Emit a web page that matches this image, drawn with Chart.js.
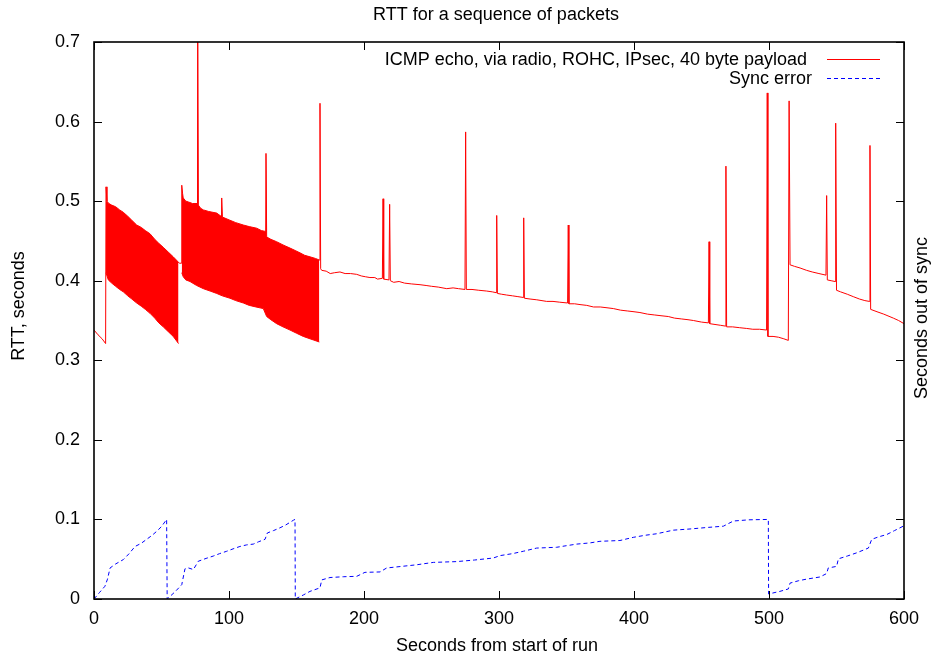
<!DOCTYPE html>
<html>
<head>
    <meta charset="UTF-8">
    <title>RTT for a sequence of packets</title>
    <script src="https://cdn.jsdelivr.net/npm/chart.js"></script>
    <style>
        body { margin: 0; background: #fff; }
    </style>
</head>
<body>
    <canvas id="myChart" width="932" height="660"></canvas>

    <script>
        // x = seconds from start of run, y = seconds
        const rttSeries = [
            [0, 0.338], [3, 0.332], [6, 0.327], [8.6, 0.321], [8.9, 0.518], [9.6, 0.500],
            [11, 0.497], [13.1, 0.495], [16, 0.493], [19, 0.489], [21.7, 0.486], [25, 0.481],
            [28, 0.476], [31.6, 0.470], [35, 0.467], [38, 0.463], [41.5, 0.459], [45, 0.452],
            [48, 0.447], [51.3, 0.442], [55, 0.436], [58.7, 0.430], [61, 0.426], [63.2, 0.422],
            [64.8, 0.422], [65.0, 0.520], [65.6, 0.510], [66.1, 0.504], [68, 0.500], [69.9, 0.499],
            [73, 0.497], [76.3, 0.497], [76.8, 0.750], [77.3, 0.495], [79, 0.491], [81, 0.489],
            [85, 0.487], [90.9, 0.485], [94.1, 0.481], [94.6, 0.504], [95.1, 0.480], [100.7, 0.476],
            [105, 0.473], [110.6, 0.470], [115, 0.468], [120.5, 0.466], [124, 0.463], [126.9, 0.462],
            [127.4, 0.560], [127.9, 0.455], [131, 0.452], [135.3, 0.449], [140, 0.445], [145.2, 0.441],
            [149, 0.438], [152.6, 0.435], [156, 0.432], [160, 0.430], [164, 0.428], [166.9, 0.426],
            [167.4, 0.623], [167.9, 0.415], [168.7, 0.413], [172, 0.412], [175, 0.409], [178, 0.410],
            [182.2, 0.411], [186, 0.409], [190, 0.409], [194.6, 0.408], [198, 0.406], [201, 0.405],
            [204.4, 0.404], [208, 0.404], [210, 0.402], [213.6, 0.403], [214.1, 0.503], [214.6, 0.402],
            [218.5, 0.401], [219, 0.496], [219.5, 0.400], [222, 0.398], [226, 0.399], [230, 0.397],
            [235, 0.396], [241.5, 0.395], [246, 0.394], [250, 0.393], [255, 0.392], [261.3, 0.390],
            [266, 0.391], [270, 0.390], [274.8, 0.389], [275.3, 0.587], [275.8, 0.389], [280, 0.389],
            [285, 0.388], [290.9, 0.387], [295, 0.386], [297.8, 0.385], [298.3, 0.482], [298.8, 0.384],
            [302, 0.383], [305.7, 0.382], [310, 0.381], [314, 0.380], [317.8, 0.379], [318.3, 0.479],
            [318.8, 0.378], [323, 0.377], [328, 0.376], [335.3, 0.374], [340, 0.374], [345, 0.373],
            [350.8, 0.372], [351.3, 0.470], [351.8, 0.371], [356, 0.371], [360, 0.370], [365, 0.369],
            [370, 0.367], [375, 0.367], [380, 0.366], [384.7, 0.365], [390, 0.363], [395, 0.362],
            [400, 0.361], [404.4, 0.360], [410, 0.358], [415, 0.357], [420, 0.356], [425.4, 0.355],
            [430, 0.353], [435, 0.352], [440, 0.351], [444, 0.350], [450, 0.348], [455.1, 0.347],
            [455.6, 0.449], [456.1, 0.346], [460, 0.345], [464, 0.344], [467.6, 0.343], [468.1, 0.544],
            [468.6, 0.342], [473, 0.342], [478, 0.341], [483.5, 0.340], [488, 0.339], [493, 0.339],
            [498.2, 0.338], [498.7, 0.636], [499.2, 0.330], [503, 0.330], [507, 0.329], [511, 0.327],
            [514.3, 0.325], [514.9, 0.626], [515.6, 0.420], [519, 0.418], [523, 0.416], [527.9, 0.413],
            [532, 0.411], [537, 0.409], [542.2, 0.407], [542.7, 0.507], [543.2, 0.401], [546, 0.400],
            [548.9, 0.399], [549.4, 0.598], [550.0, 0.388], [553, 0.386], [558, 0.383], [562.4, 0.380],
            [567, 0.377], [571, 0.375], [574.3, 0.374], [574.8, 0.570], [575.3, 0.364], [580, 0.361],
            [585, 0.358], [592.1, 0.353], [596, 0.350], [600, 0.346]
        ];

        // lower edge of the two dense oscillating stretches
        const burst1Low = [
            [8.9, 0.410], [10.6, 0.401], [13.1, 0.397], [16, 0.393], [19, 0.389], [21.7, 0.386],
            [25, 0.381], [28, 0.377], [31.6, 0.372], [35, 0.368], [38, 0.364], [41.5, 0.359],
            [45, 0.353], [48, 0.347], [51.3, 0.342], [55, 0.336], [58.7, 0.330], [62.6, 0.321]
        ];
        const burst2Low = [
            [65.0, 0.410], [66.1, 0.405], [68, 0.401], [71.1, 0.399], [76, 0.394], [81, 0.390],
            [86, 0.387], [90.9, 0.384], [95, 0.381], [100.7, 0.378], [105, 0.375], [110.6, 0.372],
            [115, 0.369], [120, 0.367], [125.4, 0.365], [127.9, 0.355], [131, 0.351], [135.3, 0.346],
            [140, 0.342], [145.2, 0.338], [150, 0.334], [155, 0.330], [160, 0.327], [166.9, 0.323]
        ];

        const syncSeries = [
            [0, 0], [4, 0.008], [8.1, 0.016], [10, 0.025], [11.9, 0.039], [16, 0.044], [21.7, 0.0495],
            [26, 0.057], [30.4, 0.066], [35, 0.070], [39, 0.075], [43, 0.080], [46.4, 0.085],
            [50, 0.091], [53.8, 0.100], [54.2, 0], [60, 0.009], [65, 0.018], [67.4, 0.038], [70, 0.039],
            [73.6, 0.037], [77.3, 0.0475], [83, 0.051], [88.4, 0.054], [93, 0.057], [98.3, 0.060],
            [103, 0.063], [108.1, 0.066], [113, 0.068], [118, 0.069], [122, 0.072], [126.7, 0.075],
            [128.4, 0.083], [133, 0.086], [137.8, 0.0895], [142, 0.093], [147.7, 0.099], [148.9, 0.100],
            [149.1, 0], [155, 0.005], [160, 0.0096], [167.4, 0.014], [168.7, 0.024], [174.8, 0.027],
            [185, 0.028], [194.6, 0.0285], [200.7, 0.0335], [211.9, 0.034], [216.8, 0.039], [228, 0.041],
            [239, 0.043], [251.4, 0.046], [268.6, 0.047], [282, 0.049], [295.8, 0.0515], [300.7, 0.0545],
            [310, 0.057], [318, 0.060], [327.9, 0.064], [342.7, 0.065], [350, 0.067], [357.6, 0.069],
            [367.4, 0.0705], [374.8, 0.0725], [389.6, 0.0735], [399.5, 0.0775], [408, 0.080],
            [416.8, 0.082], [429.1, 0.0865], [441.5, 0.088], [455, 0.090], [466.2, 0.0915],
            [473.6, 0.098], [485, 0.0995], [499.5, 0.100], [499.7, 0.0063], [508.1, 0.0096],
            [514.3, 0.0126], [515.6, 0.020], [522, 0.023], [527.9, 0.025], [537.8, 0.0277],
            [542.7, 0.032], [543.9, 0.039], [550.1, 0.041], [551.4, 0.0505], [558, 0.054],
            [564.9, 0.058], [573.6, 0.064], [576.1, 0.075], [581, 0.078], [587.2, 0.081],
            [593, 0.086], [600, 0.092]
        ];

        const xTicks = [0, 100, 200, 300, 400, 500, 600];
        const yTicks = [0, 0.1, 0.2, 0.3, 0.4, 0.5, 0.6, 0.7];
        const rttLabel = 'ICMP echo, via radio, ROHC, IPsec, 40 byte payload';
        const syncLabel = 'Sync error';

        const FONT = '"Liberation Sans", Arial, Helvetica, sans-serif';
        const toXY = arr => arr.map(p => ({ x: p[0], y: p[1] }));

        // gnuplot-like frame, inward ticks, titles and legend
        const decorations = {
            id: 'decorations',
            afterDraw(chart) {
                const c = chart.ctx;
                const a = chart.chartArea;
                const xs = chart.scales.x, ys = chart.scales.y;
                c.save();
                c.strokeStyle = '#000';
                c.lineWidth = 1;
                xTicks.forEach(v => {
                    const px = Math.round(xs.getPixelForValue(v)) + 0.5;
                    c.beginPath();
                    c.moveTo(px, a.bottom); c.lineTo(px, a.bottom - 8);
                    c.moveTo(px, a.top); c.lineTo(px, a.top + 8);
                    c.stroke();
                });
                yTicks.forEach(v => {
                    const py = Math.round(ys.getPixelForValue(v)) + 0.5;
                    c.beginPath();
                    c.moveTo(a.left, py); c.lineTo(a.left + 8, py);
                    c.moveTo(a.right, py); c.lineTo(a.right - 8, py);
                    c.stroke();
                });
                c.lineWidth = 1.6;
                c.strokeRect(a.left, a.top, a.right - a.left, a.bottom - a.top);

                c.fillStyle = '#000';
                c.font = '18px ' + FONT;
                c.textBaseline = 'middle';
                c.textAlign = 'center';
                c.fillText('RTT for a sequence of packets', 496, 15);
                c.fillText('Seconds from start of run', 497, 646);

                c.save();
                c.translate(19, 306);
                c.rotate(-Math.PI / 2);
                c.fillText('RTT, seconds', 0, 0);
                c.restore();
                c.save();
                c.translate(922, 318);
                c.rotate(-Math.PI / 2);
                c.fillText('Seconds out of sync', 0, 0);
                c.restore();

                // legend
                c.textAlign = 'right';
                c.fillText(rttLabel, 807, 60);
                c.fillText(syncLabel, 812, 79);
                c.lineWidth = 1;
                c.strokeStyle = '#ff0000';
                c.beginPath(); c.moveTo(827, 59.5); c.lineTo(880, 59.5); c.stroke();
                c.strokeStyle = '#0000ff';
                c.setLineDash([4, 3]);
                c.beginPath(); c.moveTo(827, 78.5); c.lineTo(880, 78.5); c.stroke();
                c.restore();
            }
        };

        const ctx = document.getElementById('myChart').getContext('2d');
        new Chart(ctx, {
            type: 'line',
            data: {
                datasets: [{
                    label: rttLabel,
                    data: toXY(rttSeries),
                    borderColor: '#ff0000',
                    borderWidth: 1,
                    pointRadius: 0,
                    fill: false
                }, {
                    label: 'burst1',
                    data: toXY(burst1Low),
                    borderColor: '#ff0000',
                    backgroundColor: '#ff0000',
                    borderWidth: 1,
                    pointRadius: 0,
                    fill: 0
                }, {
                    label: 'burst2',
                    data: toXY(burst2Low),
                    borderColor: '#ff0000',
                    backgroundColor: '#ff0000',
                    borderWidth: 1,
                    pointRadius: 0,
                    fill: 0
                }, {
                    label: syncLabel,
                    data: toXY(syncSeries),
                    borderColor: '#0000ff',
                    borderWidth: 1,
                    borderDash: [4, 3],
                    pointRadius: 0,
                    fill: false
                }]
            },
            options: {
                responsive: false,
                animation: false,
                layout: { padding: { top: 42, right: 28, left: 0, bottom: 0 } },
                plugins: {
                    legend: { display: false },
                    title: { display: false },
                    tooltip: { enabled: false }
                },
                scales: {
                    x: {
                        type: 'linear',
                        min: 0,
                        max: 600,
                        afterFit: s => { s.height = 61; },
                        afterBuildTicks: s => { s.ticks = xTicks.map(v => ({ value: v })); },
                        grid: { display: false, drawTicks: false },
                        border: { display: false },
                        ticks: {
                            padding: 9,
                            color: '#000',
                            maxRotation: 0,
                            font: { family: FONT, size: 18 }
                        }
                    },
                    y: {
                        type: 'linear',
                        min: 0,
                        max: 0.7,
                        afterFit: s => { s.width = 94; },
                        afterBuildTicks: s => { s.ticks = yTicks.map(v => ({ value: v })); },
                        grid: { display: false, drawTicks: false },
                        border: { display: false },
                        ticks: {
                            padding: 14,
                            color: '#000',
                            font: { family: FONT, size: 18 },
                            callback: v => String(Math.round(v * 10) / 10)
                        }
                    }
                }
            },
            plugins: [decorations]
        });
    </script>
</body>
</html>
